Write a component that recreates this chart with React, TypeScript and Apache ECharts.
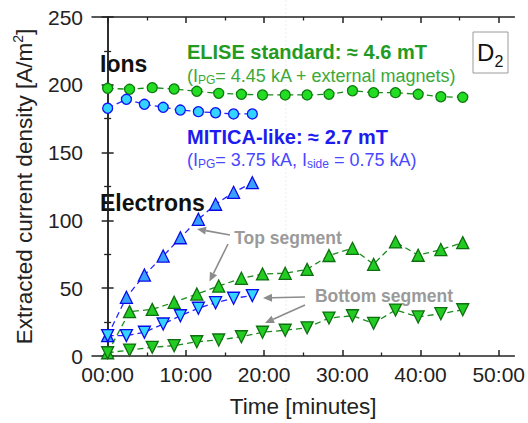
import React, { useEffect, useRef } from "react";
import * as echarts from "echarts";

// ---- data (time in minutes, current density in A/m^2) ----
const eliseTimes = [0, 2.8, 5.7, 8.5, 11.4, 14.2, 17.1, 19.8, 22.7, 25.5, 28.3, 31.3, 34.0, 36.8, 39.7, 42.6, 45.4];
const eliseIons = [197.4, 196.7, 197.9, 196.9, 195.2, 193.7, 193.0, 192.5, 192.5, 192.5, 193.0, 195.6, 194.2, 194.2, 193.0, 191.2, 190.8];
const eliseElecTop = [2.4, 32.7, 34.4, 39.6, 45.7, 51.6, 57.3, 60.5, 61.0, 63.9, 74.1, 79.4, 67.6, 84.1, 74.3, 78.5, 83.6];
const eliseElecBottom = [2.4, 4.4, 6.4, 7.6, 10.5, 11.8, 14.2, 17.5, 19.0, 20.8, 28.0, 29.7, 24.1, 33.9, 28.8, 31.2, 34.1];

const miticaTimes = [0, 2.4, 4.7, 7.1, 9.3, 11.6, 13.8, 16.1, 18.5];
const miticaIons = [182.7, 189.3, 185.6, 183.4, 181.4, 180.2, 179.4, 178.5, 178.5];
const miticaElecTop = [15, 43.3, 59.7, 73.7, 87.2, 100.8, 111.9, 120.7, 127.8];
const miticaElecBottom = [15, 15, 17.5, 23.6, 29.7, 35.2, 39.3, 42.6, 44.5];

const xMajorTicks = [0, 10, 20, 30, 40, 50];
const xMinorTicks = [5, 15, 25, 35, 45];
const yMin = 0;
const yMax = 250;
const yStep = 50;

const FONT = '"Liberation Sans", Arial, sans-serif';
const AX = "#222222";
const GRAY = "#8c8c8c";
const GREEN_TXT = "#239b23";
const GREEN_SUB = "#3aa83a";
const BLUE_TXT = "#1c1cf0";
const BLUE_SUB = "#4848ff";

const pairs = (xs: number[], ys: number[]) => xs.map((x, i) => [x, ys[i]]);
const fmtTime = (v: number) => (v < 10 ? "0" + v : "" + v) + ":00";

function arrow(x1: number, y1: number, x2: number, y2: number) {
  const dx = x2 - x1;
  const dy = y2 - y1;
  const L = Math.hypot(dx, dy);
  const ux = dx / L;
  const uy = dy / L;
  const hl = 9;
  const hw = 4;
  const bx = x2 - ux * hl;
  const by = y2 - uy * hl;
  return [
    { type: "line", shape: { x1, y1, x2: bx, y2: by }, style: { stroke: GRAY, lineWidth: 1.6 } },
    {
      type: "polygon",
      shape: { points: [[x2, y2], [bx - uy * hw, by + ux * hw], [bx + uy * hw, by - ux * hw]] },
      style: { fill: GRAY },
    },
  ];
}

function lineSeries(
  name: string,
  data: number[][],
  symbol: string,
  size: number,
  rotate: number,
  fill: string,
  border: string,
  lineColor: string
) {
  return {
    name,
    type: "line",
    data,
    symbol,
    symbolSize: size,
    symbolRotate: rotate,
    showAllSymbol: true,
    itemStyle: { color: fill, borderColor: border, borderWidth: 1.3 },
    lineStyle: { color: lineColor, width: 1.3, type: [6, 4] },
    xAxisIndex: 0,
    yAxisIndex: 0,
  };
}

function subText(x: number, y: number, parts: string, color: string) {
  return {
    type: "text",
    x,
    y,
    style: {
      text: parts,
      align: "left",
      verticalAlign: "middle",
      fill: color,
      rich: {
        m: { fontSize: 18, fontFamily: FONT, fill: color, color, lineHeight: 20, verticalAlign: "middle" },
        s: { fontSize: 12, fontFamily: FONT, fill: color, color, lineHeight: 9, verticalAlign: "bottom" },
      },
    },
  };
}

export default function App() {
  const ref = useRef<HTMLDivElement>(null);
  useEffect(() => {
    const chart = echarts.init(ref.current!, null, { renderer: "svg" });
    const xBase = {
      type: "value",
      min: -2,
      max: 52,
      gridIndex: 0,
      splitLine: { show: false },
    };
    const option: any = {
      animation: false,
      backgroundColor: "#ffffff",
      grid: { left: 92, right: 12, top: 17, bottom: 67 },
      xAxis: [
        {
          ...xBase,
          position: "bottom",
          axisLine: { show: true, lineStyle: { color: AX, width: 1.5 } },
          axisTick: { show: true, inside: true, length: 6, customValues: xMajorTicks, lineStyle: { color: AX, width: 1.5 } },
          axisLabel: { customValues: xMajorTicks, formatter: fmtTime, fontSize: 21, color: AX, fontFamily: FONT, margin: 8 },
          name: "Time [minutes]",
          nameLocation: "middle",
          nameGap: 39,
          nameTextStyle: { fontSize: 22.5, color: AX, fontFamily: FONT },
        },
        {
          ...xBase,
          position: "bottom",
          axisLine: { show: false },
          axisTick: { show: true, inside: true, length: 3.5, customValues: xMinorTicks, lineStyle: { color: AX, width: 1.3 } },
          axisLabel: { show: false },
        },
        {
          ...xBase,
          position: "top",
          axisLine: { show: true, lineStyle: { color: AX, width: 1.5 } },
          axisTick: { show: true, inside: true, length: 6, customValues: xMajorTicks, lineStyle: { color: AX, width: 1.5 } },
          axisLabel: { show: false },
        },
        {
          ...xBase,
          position: "top",
          axisLine: { show: false },
          axisTick: { show: true, inside: true, length: 3.5, customValues: xMinorTicks, lineStyle: { color: AX, width: 1.3 } },
          axisLabel: { show: false },
        },
      ],
      yAxis: [
        {
          type: "value",
          min: yMin,
          max: yMax,
          interval: yStep,
          position: "left",
          axisLine: { show: true, lineStyle: { color: AX, width: 1.5 } },
          axisTick: { show: true, inside: true, length: 6, lineStyle: { color: AX, width: 1.5 } },
          minorTick: { show: true, splitNumber: 2, length: 3.5, lineStyle: { color: AX, width: 1.3 } },
          axisLabel: { fontSize: 21, color: AX, fontFamily: FONT, margin: 9 },
          splitLine: { show: false },
          name: "Extracted current density [A/m{sup|2}]",
          nameLocation: "middle",
          nameGap: 42,
          nameTextStyle: {
            fontSize: 22.5,
            color: AX,
            fontFamily: FONT,
            lineHeight: 26,
            rich: {
              sup: { fontSize: 14, color: AX, fontFamily: FONT, lineHeight: 12, verticalAlign: "top" },
            },
          },
        },
        {
          type: "value",
          min: yMin,
          max: yMax,
          interval: yStep,
          position: "right",
          axisLine: { show: true, lineStyle: { color: AX, width: 1.5 } },
          axisTick: { show: true, inside: true, length: 6, lineStyle: { color: AX, width: 1.5 } },
          minorTick: { show: true, splitNumber: 2, length: 3.5, lineStyle: { color: AX, width: 1.3 } },
          axisLabel: { show: false },
          splitLine: { show: false },
        },
      ],
      series: [
        lineSeries("ELISE ions", pairs(eliseTimes, eliseIons), "circle", 10, 0, "#22dd22", "#0f7a0f", "#1a8c1a"),
        lineSeries("MITICA ions", pairs(miticaTimes, miticaIons), "circle", 10, 0, "#33d4ff", "#1010f0", "#2222ff"),
        lineSeries("ELISE electrons top", pairs(eliseTimes, eliseElecTop), "triangle", 12, 0, "#22cc22", "#0f6e0f", "#1a8c1a"),
        lineSeries("ELISE electrons bottom", pairs(eliseTimes, eliseElecBottom), "triangle", 12, 180, "#22cc22", "#0f6e0f", "#1a8c1a"),
        lineSeries("MITICA electrons top", pairs(miticaTimes, miticaElecTop), "triangle", 12, 0, "#3aa0ff", "#0a0ae8", "#2222ff"),
        lineSeries("MITICA electrons bottom", pairs(miticaTimes, miticaElecBottom), "triangle", 12, 180, "#33d4ff", "#0a0ae8", "#2222ff"),
      ],
      graphic: [
        {
          type: "line",
          z: -10,
          shape: { x1: 286, y1: 0, x2: 286, y2: 423 },
          style: { stroke: "#ececec", lineWidth: 1, lineDash: [2, 2] },
        },
        {
          type: "text",
          x: 100,
          y: 64,
          style: { text: "Ions", fontSize: 23, fontWeight: "bold", fontFamily: FONT, fill: "#111", align: "left", verticalAlign: "middle" },
        },
        {
          type: "text",
          x: 100,
          y: 203,
          style: { text: "Electrons", fontSize: 23, fontWeight: "bold", fontFamily: FONT, fill: "#111", align: "left", verticalAlign: "middle" },
        },
        {
          type: "text",
          x: 187,
          y: 52,
          style: { text: "ELISE standard: \u2248 4.6 mT", fontSize: 20, fontWeight: "bold", fontFamily: FONT, fill: GREEN_TXT, align: "left", verticalAlign: "middle" },
        },
        subText(187, 76, "{m|(I}{s|PG}{m|= 4.45 kA + external magnets)}", GREEN_SUB),
        {
          type: "text",
          x: 187,
          y: 137,
          style: { text: "MITICA-like: \u2248 2.7 mT", fontSize: 20, fontWeight: "bold", fontFamily: FONT, fill: BLUE_TXT, align: "left", verticalAlign: "middle" },
        },
        subText(187, 160, "{m|(I}{s|PG}{m|= 3.75 kA, I}{s|side}{m| = 0.75 kA)}", BLUE_SUB),
        {
          type: "text",
          x: 288,
          y: 238,
          style: { text: "Top segment", fontSize: 17.5, fontWeight: "bold", fontFamily: FONT, fill: "#9a9a9a", align: "center", verticalAlign: "middle" },
        },
        {
          type: "text",
          x: 384,
          y: 296,
          style: { text: "Bottom segment", fontSize: 17.5, fontWeight: "bold", fontFamily: FONT, fill: "#9a9a9a", align: "center", verticalAlign: "middle" },
        },
        ...arrow(230, 235, 197, 229),
        ...arrow(228, 244, 209.5, 281.5),
        ...arrow(305, 297, 263, 298),
        ...arrow(305, 305, 265, 323),
        {
          type: "rect",
          shape: { x: 473, y: 32, width: 35, height: 41 },
          style: { fill: "#ffffff", stroke: "#9a9a9a", lineWidth: 1 },
        },
        {
          type: "text",
          x: 477,
          y: 52,
          style: { text: "D", fontSize: 24, fontFamily: FONT, fill: "#111", align: "left", verticalAlign: "middle" },
        },
        {
          type: "text",
          x: 494.5,
          y: 61,
          style: { text: "2", fontSize: 16, fontFamily: FONT, fill: "#111", align: "left", verticalAlign: "middle" },
        },
      ],
    };
    chart.setOption(option);
    return () => chart.dispose();
  }, []);
  return <div ref={ref} style={{ position: "fixed", left: 0, top: 0, width: 528, height: 423 }} />;
}
